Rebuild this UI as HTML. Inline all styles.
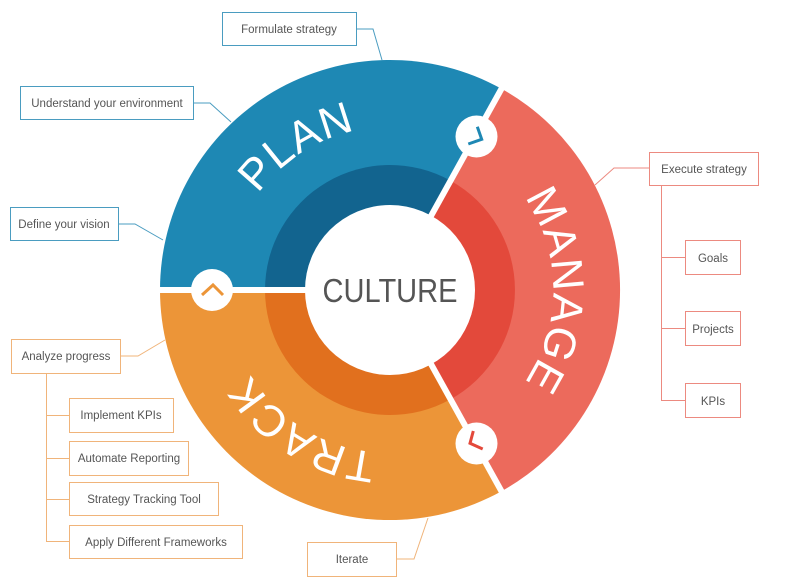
<!DOCTYPE html>
<html><head><meta charset="utf-8"><style>
html,body{margin:0;padding:0;background:#fff;}
svg{display:block;}
.lb{font-family:"Liberation Sans",sans-serif;font-size:11.5px;fill:#555;}
.big{font-family:"Liberation Sans",sans-serif;font-size:44px;fill:#fff;letter-spacing:1px;}
</style></head><body>
<svg width="800" height="586" viewBox="0 0 800 586" xmlns="http://www.w3.org/2000/svg">
<rect width="800" height="586" fill="#fff"/>
<path d="M390,290 L160,290 A230,230 0 0 1 501.5,88.8 Z" fill="#1e88b4"/>
<path d="M390,290 L501.5,88.8 A230,230 0 0 1 501.5,491.2 Z" fill="#ec6a5c"/>
<path d="M390,290 L501.5,491.2 A230,230 0 0 1 160,290 Z" fill="#ec9538"/>
<path d="M390,290 L265,290 A125,125 0 0 1 450.6,180.7 Z" fill="#12648f"/>
<path d="M390,290 L450.6,180.7 A125,125 0 0 1 450.6,399.3 Z" fill="#e3493b"/>
<path d="M390,290 L450.6,399.3 A125,125 0 0 1 265,290 Z" fill="#e1701e"/>
<g stroke="#fff" stroke-width="6">
<line x1="390" y1="290" x2="503" y2="86"/>
<line x1="390" y1="290" x2="503" y2="494"/>
<line x1="390" y1="290" x2="155" y2="290"/>
</g>
<circle cx="390" cy="290" r="85" fill="#fff"/>
<text x="390" y="302" text-anchor="middle" font-family="Liberation Sans, sans-serif" font-size="33" fill="#555" textLength="135" lengthAdjust="spacingAndGlyphs">CULTURE</text>
<circle cx="476.5" cy="136.5" r="21" fill="#fff"/>
<polyline points="477.3,126.7 481.7,139.3 468.3,144" fill="none" stroke="#1e88b4" stroke-width="3"/>
<circle cx="476.5" cy="443.5" r="21" fill="#fff"/>
<polyline points="473.3,431 470,443.3 482.7,449" fill="none" stroke="#e3493b" stroke-width="3"/>
<circle cx="212" cy="290" r="21" fill="#fff"/>
<polyline points="202,295 213,285 223,295" fill="none" stroke="#ec9538" stroke-width="3"/>
<defs>
<path id="pPlan" d="M228.2,270.1 A163,163 0 0 1 437.7,134.1"/>
<path id="pMan" d="M494.8,165.1 A163,163 0 0 1 494.8,414.9"/>
<path id="pTr" d="M440.4,445 A163,163 0 0 1 228.6,312.7"/>
</defs>
<text class="big"><textPath href="#pPlan" startOffset="50%" text-anchor="middle">PLAN</textPath></text>
<text class="big"><textPath href="#pMan" startOffset="50%" text-anchor="middle">MANAGE</textPath></text>
<text class="big"><textPath href="#pTr" startOffset="50%" text-anchor="middle">TRACK</textPath></text>
<g fill="#fff" stroke="#4a9cc0" stroke-width="1">
<rect x="222.5" y="12.5" width="134" height="33"/>
<rect x="20.5" y="86.5" width="173" height="33"/>
<rect x="10.5" y="207.5" width="108" height="33"/>
</g>
<g fill="none" stroke="#4a9cc0" stroke-width="1">
<polyline points="356,29 373,29 382,60"/>
<polyline points="193,103 210,103 231,122"/>
<polyline points="118,224 135,224 163,240"/>
</g>
<text class="lb" x="289" y="33" text-anchor="middle">Formulate strategy</text>
<text class="lb" x="107" y="107" text-anchor="middle">Understand your environment</text>
<text class="lb" x="64" y="228" text-anchor="middle">Define your vision</text>
<g fill="#fff" stroke="#ec8a80" stroke-width="1">
<rect x="649.5" y="152.5" width="109" height="33"/>
<rect x="685.5" y="240.5" width="55" height="34"/>
<rect x="685.5" y="311.5" width="55" height="34"/>
<rect x="685.5" y="383.5" width="55" height="34"/>
</g>
<g fill="none" stroke="#ec8a80" stroke-width="1">
<polyline points="649,168 614,168 595,185"/>
<polyline points="661.5,185 661.5,400.5 685,400.5"/>
<line x1="661.5" y1="257.5" x2="685" y2="257.5"/>
<line x1="661.5" y1="328.5" x2="685" y2="328.5"/>
</g>
<text class="lb" x="704" y="173" text-anchor="middle">Execute strategy</text>
<text class="lb" x="713" y="262" text-anchor="middle">Goals</text>
<text class="lb" x="713" y="333" text-anchor="middle">Projects</text>
<text class="lb" x="713" y="405" text-anchor="middle">KPIs</text>
<g fill="#fff" stroke="#f0b47a" stroke-width="1">
<rect x="11.5" y="339.5" width="109" height="34"/>
<rect x="69.5" y="398.5" width="104" height="34"/>
<rect x="69.5" y="441.5" width="119" height="34"/>
<rect x="69.5" y="482.5" width="149" height="33"/>
<rect x="69.5" y="525.5" width="173" height="33"/>
<rect x="307.5" y="542.5" width="89" height="34"/>
</g>
<g fill="none" stroke="#f0b47a" stroke-width="1">
<polyline points="120,356 138,356 165,340"/>
<polyline points="46.5,373 46.5,541.5 69,541.5"/>
<line x1="46.5" y1="415.5" x2="69" y2="415.5"/>
<line x1="46.5" y1="458.5" x2="69" y2="458.5"/>
<line x1="46.5" y1="499.5" x2="69" y2="499.5"/>
<polyline points="397,559 414,559 428,518"/>
</g>
<text class="lb" x="66" y="360" text-anchor="middle">Analyze progress</text>
<text class="lb" x="121" y="419" text-anchor="middle">Implement KPIs</text>
<text class="lb" x="129" y="462" text-anchor="middle">Automate Reporting</text>
<text class="lb" x="144" y="503" text-anchor="middle">Strategy Tracking Tool</text>
<text class="lb" x="156" y="546" text-anchor="middle">Apply Different Frameworks</text>
<text class="lb" x="352" y="563" text-anchor="middle">Iterate</text>
</svg>
</body></html>
